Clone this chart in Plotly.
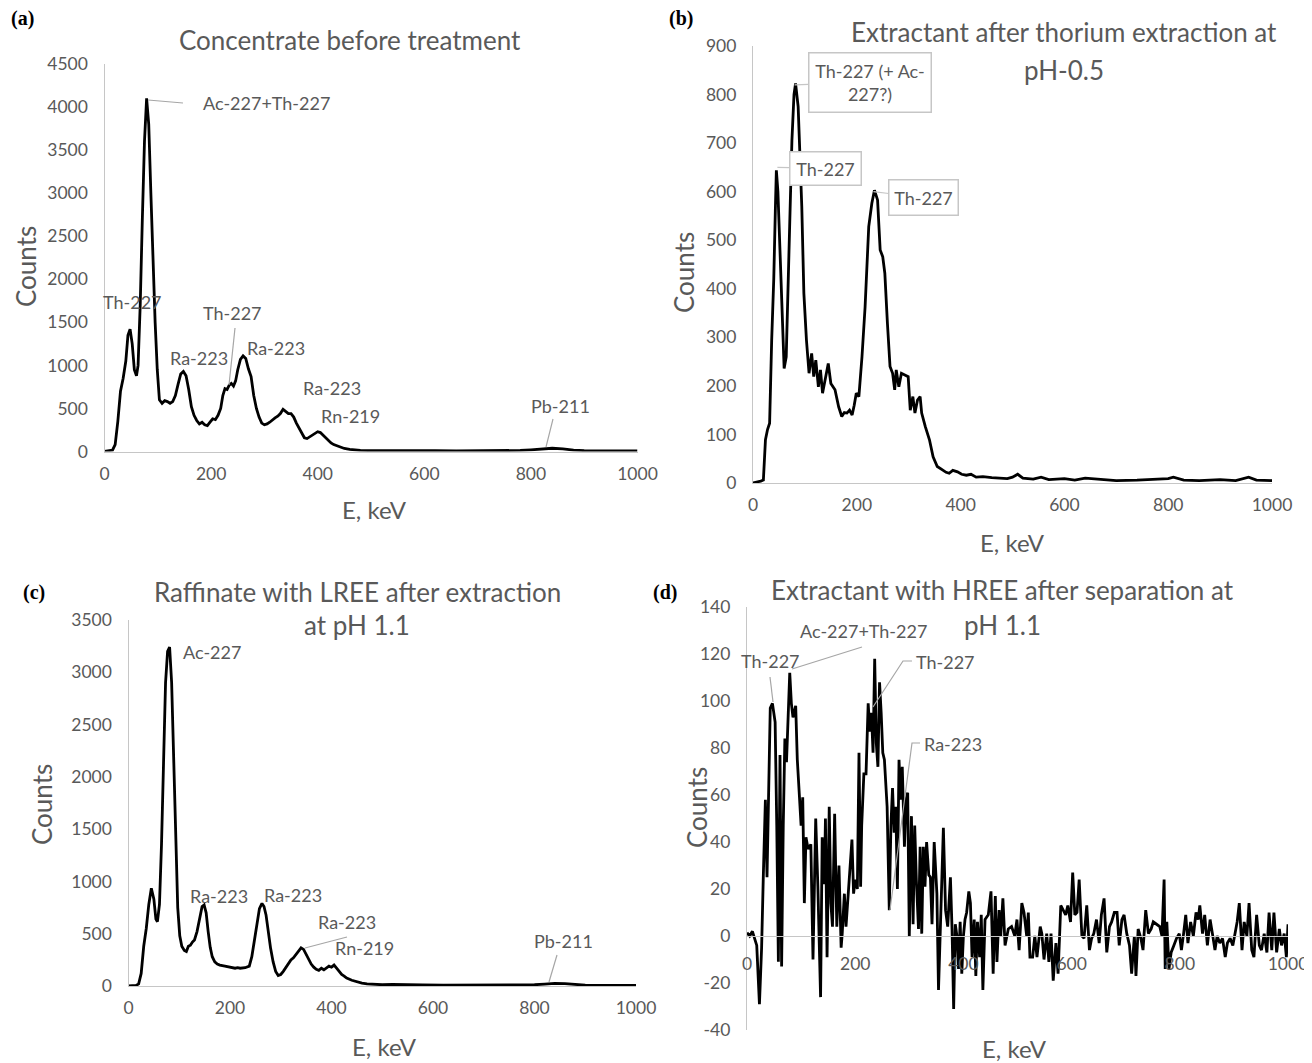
import plotly.graph_objects as go

# ---------------- data ----------------
a_energy = [0, 10, 15, 20, 25, 30, 35, 40, 44, 48, 52, 56, 60, 63, 67, 71, 75, 79, 83, 87, 91, 95, 99, 103, 108, 113, 118, 123, 128, 133, 138, 143, 148, 153, 158, 163, 168, 173, 178, 183, 188, 193, 198, 203, 208, 213, 218, 222, 226, 230, 234, 238, 242, 246, 250, 255, 260, 265, 270, 275, 280, 285, 290, 295, 300, 305, 310, 315, 320, 325, 330, 335, 340, 345, 350, 355, 360, 365, 370, 375, 380, 385, 390, 395, 400, 405, 410, 415, 420, 425, 430, 440, 450, 460, 470, 480, 500, 540, 580, 620, 660, 700, 740, 780, 800, 820, 840, 860, 880, 900, 950, 1000]
a_counts = [2, 5, 15, 80, 350, 700, 850, 1050, 1350, 1420, 1250, 950, 880, 1000, 1700, 2700, 3600, 4100, 3800, 3000, 2200, 1500, 950, 600, 560, 590, 580, 560, 580, 650, 780, 900, 930, 880, 720, 520, 420, 360, 320, 340, 310, 300, 340, 380, 370, 420, 500, 650, 730, 720, 770, 790, 760, 820, 950, 1070, 1110, 1080, 960, 870, 650, 500, 400, 330, 310, 320, 340, 370, 390, 410, 440, 490, 470, 440, 440, 400, 330, 270, 210, 160, 150, 170, 180, 210, 230, 220, 190, 150, 120, 100, 80, 55, 35, 25, 15, 12, 10, 12, 10, 10, 8, 10, 8, 12, 20, 30, 38, 30, 15, 10, 8, 6]

b_energy = [0, 10, 15, 20, 24, 28, 32, 36, 40, 43, 45, 48, 52, 56, 60, 64, 68, 72, 75, 79, 82, 87, 90, 94, 98, 103, 108, 113, 117, 121, 126, 130, 134, 139, 145, 150, 158, 165, 171, 176, 181, 186, 191, 195, 199, 204, 210, 216, 223, 229, 234, 240, 245, 250, 254, 259, 264, 269, 273, 276, 281, 286, 292, 299, 303, 308, 312, 317, 322, 325, 332, 340, 347, 355, 365, 372, 378, 385, 394, 402, 411, 420, 430, 443, 460, 475, 490, 500, 510, 520, 540, 555, 570, 600, 620, 640, 660, 700, 740, 770, 800, 810, 830, 860, 900, 930, 955, 970, 1000]
b_counts = [0, 2, 4, 6, 89, 110, 123, 294, 420, 560, 644, 600, 466, 330, 236, 260, 432, 620, 706, 800, 823, 775, 680, 569, 391, 294, 226, 267, 219, 253, 198, 233, 185, 212, 246, 205, 192, 157, 137, 145, 144, 150, 140, 160, 185, 178, 260, 363, 528, 576, 603, 583, 480, 466, 432, 329, 240, 226, 192, 233, 198, 226, 222, 219, 150, 178, 144, 171, 178, 144, 116, 89, 54, 34, 27, 22, 20, 26, 23, 18, 16, 18, 12, 13, 11, 10, 9, 12, 18, 10, 8, 12, 7, 9, 6, 10, 8, 5, 6, 7, 9, 12, 6, 5, 7, 5, 12, 6, 5]

c_energy = [0, 15, 20, 25, 30, 35, 40, 45, 50, 54, 57, 61, 65, 69, 73, 77, 81, 85, 89, 93, 97, 101, 105, 110, 114, 118, 122, 126, 130, 135, 140, 145, 149, 153, 157, 161, 165, 170, 175, 180, 190, 200, 210, 215, 220, 230, 238, 243, 248, 253, 258, 263, 267, 271, 275, 280, 285, 290, 295, 300, 305, 310, 315, 320, 325, 330, 335, 340, 345, 350, 355, 360, 365, 370, 375, 380, 385, 390, 395, 400, 405, 410, 415, 420, 425, 430, 440, 450, 460, 470, 480, 500, 520, 540, 580, 620, 660, 700, 740, 780, 800, 820, 840, 860, 880, 900, 950, 1000]
c_counts = [2, 5, 20, 120, 380, 550, 780, 935, 830, 640, 615, 780, 1350, 2200, 2900, 3200, 3240, 2900, 2100, 1300, 750, 480, 380, 340, 330, 380, 390, 420, 440, 520, 650, 760, 775, 700, 520, 370, 280, 230, 210, 200, 190, 180, 170, 175, 170, 175, 190, 280, 450, 620, 740, 790, 760, 680, 520, 360, 230, 140, 100, 110, 140, 180, 220, 250, 270, 300, 330, 365, 350, 300, 250, 210, 180, 160, 150, 170, 155, 175, 190, 180, 200, 170, 140, 110, 95, 75, 55, 40, 28, 20, 15, 12, 15, 12, 10, 8, 8, 8, 10, 8, 12, 18, 25, 22, 12, 8, 6, 5]

d_energy = [0, 5, 10, 14, 18, 23, 27, 30, 34, 37, 40, 43, 47, 52, 55, 58, 61, 64, 67, 70, 73, 76, 79, 82, 85, 90, 93, 97, 100, 103, 106, 109, 113, 118, 122, 127, 131, 136, 139, 143, 145, 148, 152, 155, 158, 162, 166, 170, 174, 176, 180, 183, 186, 189, 194, 197, 200, 204, 207, 210, 212, 216, 220, 224, 227, 230, 233, 236, 239, 242, 245, 248, 251, 254, 257, 259, 263, 266, 269, 272, 275, 278, 281, 284, 287, 291, 294, 297, 300, 304, 307, 310, 313, 317, 320, 323, 326, 329, 332, 336, 339, 342, 346, 351, 354, 359, 363, 367, 371, 376, 379, 382, 385, 388, 391, 394, 397, 400, 403, 406, 410, 413, 416, 420, 423, 426, 430, 433, 436, 440, 446, 451, 455, 459, 462, 466, 469, 473, 477, 483, 489, 495, 499, 503, 508, 512, 517, 520, 523, 528, 532, 536, 542, 545, 549, 554, 558, 562, 566, 571, 575, 580, 584, 589, 593, 598, 602, 606, 610, 614, 619, 623, 628, 633, 637, 641, 646, 651, 655, 660, 665, 670, 674, 679, 684, 688, 693, 697, 702, 707, 711, 716, 719, 723, 728, 732, 737, 742, 747, 751, 757, 763, 767, 771, 773, 776, 780, 784, 789, 794, 799, 803, 807, 811, 815, 820, 825, 830, 834, 837, 842, 846, 851, 856, 861, 865, 869, 874, 879, 884, 888, 893, 898, 902, 906, 910, 915, 919, 924, 928, 933, 937, 942, 947, 951, 956, 961, 965, 970, 974, 979, 984, 988, 993, 997, 1000]
d_counts = [1.4, 0, 2, -1, -4, -29, -5, 24, 58, 25, 59, 97, 99, 91, 47, -11, 77, -13, 47, 84, 74, 96, 112, 99, 93, 98, 75, 59, 47, 59, 14, 42, 37, 39, -10, 50, 21, -26, 42, 22, 50, -9, 55, 14, 4, 52, 4, 30, -5, 1, 18, 4, 14, 25, 41, 18, 24, 20, 78, 21, 47, 69, 69, 99, 87, 95, 78, 118, 82, 72, 108, 95, 78, 75, 61, 55, 11, 47, 63, 44, 55, 20, 75, 58, 72, 38, 58, 61, 0, 51, 5, 47, 24, 3, 38, 1, 38, 21, 40, 26, 25, 5, 40, 18, -23, 18, 46, 11, 4, 25, 3, -31, 5, 0, -14, 6, -16, 0, 7, 10, 19, 14, -9, 7, -17, 6, -9, 9, -23, 7, 9, 19, -16, 17, -11, 11, 0, 16, -4, 3, 4, 0, 7, -6, 14, 10, 0, 10, -9, -9, 0, -9, 4, 1, -10, 1, -11, 1, -19, -3, -16, 13, 11, 9, 13, 6, 27, 9, 10, 24, 0, -1, 13, -6, -1, 1, 7, -3, 9, 16, -7, 4, 6, 10, 10, -4, 7, 9, 1, -4, -16, 0, -17, 3, -1, -6, 11, 1, 3, 6, 5, 4, 0, 24, -14, 6, -14, -7, -4, -1, 1, -6, 1, 9, -3, 6, 0, 10, 7, 13, 1, 9, -4, 7, 0, -6, 0, -3, -1, -9, -3, -1, -4, 1, 6, 14, -6, 6, 0, 14, -6, -9, 9, -4, -6, 1, -7, 10, -6, 10, -7, 3, -4, 1, -9, 5]

x_ticks = [0, 200, 400, 600, 800, 1000]
d_yticks = [-40, -20, 0, 20, 40, 60, 80, 100, 120, 140]
d_yticklabels = ["-40", "-20", "0", "20", "40", "60", "80", "100", "120", "140"]

# ---------------- layout helpers ----------------
# the page places the figure 8 px in from the top-left corner of the window
OFF = 8
W, H = 1312 - OFF, 1063 - OFF
GREY = "#595959"
AXIS = "#c6c6c6"
LEAD = "#a6a6a6"
FONT = "Lato"


def px(x, y):
    return (x - OFF) / W, 1 - (y - OFF) / H


def dom_x(x0, x1):
    return [(x0 - OFF) / W, (x1 - OFF) / W]


def dom_y(ytop, ybot):
    return [1 - (ybot - OFF) / H, 1 - (ytop - OFF) / H]


fig = go.Figure()
line_style = dict(color="black", width=2.8)
fig.add_trace(go.Scatter(x=a_energy, y=a_counts, mode="lines", line=line_style, xaxis="x", yaxis="y"))
fig.add_trace(go.Scatter(x=b_energy, y=b_counts, mode="lines", line=line_style, xaxis="x2", yaxis="y2"))
fig.add_trace(go.Scatter(x=c_energy, y=c_counts, mode="lines", line=line_style, xaxis="x3", yaxis="y3"))
fig.add_trace(go.Scatter(x=d_energy, y=d_counts, mode="lines", line=line_style, xaxis="x4", yaxis="y4"))

tickfont = dict(family=FONT, size=17.5, color=GREY)


def xax(domain, anchor, **kw):
    d = dict(domain=domain, anchor=anchor, range=[0, 1000], tickvals=x_ticks, showline=True,
             linecolor=AXIS, linewidth=1.2, showgrid=False, zeroline=False, ticks="",
             tickfont=tickfont, ticklabelstandoff=6, fixedrange=True, automargin=False)
    d.update(kw)
    return d


def yax(domain, anchor, rng, dtick, **kw):
    d = dict(domain=domain, anchor=anchor, range=rng, dtick=dtick, showline=True,
             linecolor=AXIS, linewidth=1.2, showgrid=False, zeroline=False, ticks="",
             tickfont=tickfont, ticklabelstandoff=12, fixedrange=True, automargin=False)
    d.update(kw)
    return d


# pixel geometry of the four plot areas
ya_dom = dom_y(64, 451.5)
yb_dom = dom_y(46, 483)
yc_dom = dom_y(620, 986)
yd_dom = dom_y(607, 1030)
zero_d = yd_dom[0] + (0 - (-40)) / 180 * (yd_dom[1] - yd_dom[0])

fig.update_layout(
    template="none",
    width=W, height=H, margin=dict(l=0, r=0, t=0, b=0, autoexpand=False),
    paper_bgcolor="white", plot_bgcolor="white", showlegend=False,
    font=dict(family=FONT, color=GREY),
    xaxis=xax(dom_x(104.5, 637.5), "y"),
    yaxis=yax(ya_dom, "x", [0, 4500], 500),
    xaxis2=xax(dom_x(753, 1272), "y2"),
    yaxis2=yax(yb_dom, "x2", [0, 900], 100),
    xaxis3=xax(dom_x(128.5, 636), "y3"),
    yaxis3=yax(yc_dom, "x3", [0, 3500], 500),
    xaxis4=xax(dom_x(747, 1288), "free", position=zero_d, ticklabelstandoff=12),
    yaxis4=yax(yd_dom, "x4", [-40, 140], 20, tickvals=d_yticks, ticktext=d_yticklabels),
)

ann = []
shapes = []


def text(x, y, s, size=18, color=GREY, family=FONT, angle=0, xanchor="center"):
    fx, fy = px(x, y)
    ann.append(dict(x=fx, y=fy, xref="paper", yref="paper", text=s, showarrow=False,
                    font=dict(family=family, size=size, color=color), textangle=angle,
                    xanchor=xanchor, yanchor="middle"))


def lead(points):
    pts = [px(x, y) for x, y in points]
    path = "M " + " L ".join(f"{a:.5f},{b:.5f}" for a, b in pts)
    shapes.append(dict(type="path", path=path, xref="paper", yref="paper",
                       line=dict(color=LEAD, width=1.2)))


# panel letters
for s, x, y in [("(a)", 9, 19), ("(b)", 667, 19), ("(c)", 21, 592), ("(d)", 651, 592)]:
    text(x, y, f"<b>{s}</b>", size=20, color="black", family="Liberation Serif", xanchor="left")

# titles
TS = 26
text(350, 40, "Concentrate before treatment", TS)
text(1064, 32, "Extractant after thorium extraction at", TS)
text(1064, 70, "pH-0.5", TS)
text(357, 592, "Raffinate with LREE after extraction", TS)
text(357, 625, "at pH 1.1", TS)
text(1002, 590, "Extractant with HREE after separation at", TS)
text(1002, 625, "pH 1.1", TS)

# axis titles
AS = 24
CS = 26
text(26, 267, "Counts", CS, angle=-90)
text(374, 509, "E, keV", AS)
text(684, 273, "Counts", CS, angle=-90)
text(1012, 542, "E, keV", AS)
text(42, 805, "Counts", CS, angle=-90)
text(384, 1046, "E, keV", AS)
text(697, 808, "Counts", CS, angle=-90)
text(1014, 1048, "E, keV", AS)

# panel (a) peak labels
text(266, 103, "Ac-227+Th-227")
lead([(148, 100), (183, 103)])
text(132, 302, "Th-227")
text(232, 313, "Th-227")
lead([(235, 328), (229, 385)])
text(199, 358, "Ra-223")
text(276, 348, "Ra-223")
text(332, 388, "Ra-223")
text(350, 416, "Rn-219")
text(560, 406, "Pb-211")
lead([(553, 419), (546, 447)])

# panel (c) peak labels
text(212, 652, "Ac-227")
text(219, 896, "Ra-223")
text(293, 895, "Ra-223")
text(347, 922, "Ra-223")
lead([(305, 948), (347, 937)])
text(365, 948, "Rn-219")
text(563, 941, "Pb-211")
lead([(557, 955), (549, 982)])

# panel (d) peak labels
text(863, 631, "Ac-227+Th-227")
lead([(792, 669), (862, 647)])
text(770, 661, "Th-227")
lead([(770, 677), (773, 702)])
text(945, 662, "Th-227")
lead([(873, 707), (903, 661), (912, 661)])
text(953, 744, "Ra-223")
lead([(890, 910), (912, 743), (920, 743)])

# panel (b) callouts
for tx, ty, s, dx, dy, w, h in [
    (80, 820, "Th-227 (+ Ac-<br>227?)", 14, -2, 115, 52),
    (47, 650, "Th-227", 12, 1, 64, 26),
    (232, 600, "Th-227", 15, 6, 62, 28),
]:
    ann.append(dict(x=tx, y=ty, xref="x2", yref="y2", text=s, showarrow=True,
                    ax=dx + w / 2 + 4, ay=dy, axref="pixel", ayref="pixel",
                    arrowhead=0, arrowwidth=1.2, arrowcolor=AXIS, standoff=0,
                    bordercolor=AXIS, borderwidth=1.5, borderpad=3, bgcolor="white",
                    width=w, height=h, align="center",
                    font=dict(family=FONT, size=18, color=GREY)))

fig.update_layout(annotations=ann, shapes=shapes)
fig.write_html("out.html")
